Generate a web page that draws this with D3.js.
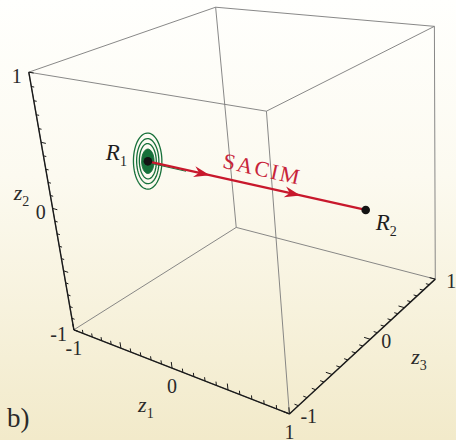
<!DOCTYPE html>
<html>
<head>
<meta charset="utf-8">
<script src="https://cdn.jsdelivr.net/npm/d3@7"></script>
<style>
  html, body { margin: 0; padding: 0; background: #fff; }
  svg { display: block; font-family: "Liberation Serif", "DejaVu Serif", serif; }
</style>
</head>
<body>
<svg id="chart" width="456" height="440"></svg>
<script>
// ---- data ----
var tickValues = d3.range(-10, 11).map(function(i) { return i / 10; });
var tickLabels = [-1, 0, 1];
var axisNames = ["1", "2", "3"];

var stateSubs = ["1", "2"];
var stateZ1 = [-1, 1];
var stateZ2 = [0, 0];
var stateZ3 = [0, 0];
var arrowAt = [-0.36, 0.47];   // z1 where the arrow heads sit

// contour rings around R1, radii along z2 and z3
var ringR2 = [0.23, 0.185, 0.145];
var ringR3 = [0.16, 0.125, 0.095];
var coreR2 = 0.1, coreR3 = 0.07;

// box corners (z1, z2, z3) and where they land in the image -> camera
var boxCorners = [[-1,-1,-1],[1,-1,-1],[1,-1,1],[-1,-1,1],[-1,1,-1],[1,1,-1],[1,1,1],[-1,1,1]];
var cornerScreen = [[74,329.5],[289.3,414],[435.5,279],[236,227.7],[28.5,72],[266.7,111.7],[434,26],[216,7.3]];

// ---- projection: fit a 3x4 perspective matrix to the corners ----
function fitProjection(src, dst) {
  var A = [], b = [];
  src.forEach(function(p, i) {
    var X = p[0], Y = p[1], Z = p[2], u = dst[i][0], v = dst[i][1];
    A.push([X, Y, Z, 1, 0, 0, 0, 0, -u * X, -u * Y, -u * Z]); b.push(u);
    A.push([0, 0, 0, 0, X, Y, Z, 1, -v * X, -v * Y, -v * Z]); b.push(v);
  });
  var n = 11, M = [];
  for (var r = 0; r < n; r++) {
    M.push(new Array(n + 1).fill(0));
    for (var k = 0; k < A.length; k++) {
      for (var c = 0; c < n; c++) M[r][c] += A[k][r] * A[k][c];
      M[r][n] += A[k][r] * b[k];
    }
  }
  for (var i = 0; i < n; i++) {
    var piv = i;
    for (var r = i + 1; r < n; r++) if (Math.abs(M[r][i]) > Math.abs(M[piv][i])) piv = r;
    var t = M[i]; M[i] = M[piv]; M[piv] = t;
    for (var r = 0; r < n; r++) {
      if (r === i) continue;
      var f = M[r][i] / M[i][i];
      for (var c = i; c <= n; c++) M[r][c] -= f * M[i][c];
    }
  }
  var q = M.map(function(row, i) { return row[n] / M[i][i]; });
  return function(z) {
    var w = q[8] * z[0] + q[9] * z[1] + q[10] * z[2] + 1;
    return [(q[0] * z[0] + q[1] * z[1] + q[2] * z[2] + q[3]) / w,
            (q[4] * z[0] + q[5] * z[1] + q[6] * z[2] + q[7]) / w];
  };
}
var proj = fitProjection(boxCorners, cornerScreen);

var svg = d3.select("#chart");
var line = d3.line();

// background
var defs = svg.append("defs");
var grad = defs.append("linearGradient").attr("id", "bg").attr("x1", 0).attr("y1", 0).attr("x2", 0).attr("y2", 1);
grad.append("stop").attr("offset", "0%").attr("stop-color", "#fffffd");
grad.append("stop").attr("offset", "40%").attr("stop-color", "#fcfaf0");
grad.append("stop").attr("offset", "100%").attr("stop-color", "#f2eaca");
svg.append("rect").attr("width", 456).attr("height", 440).attr("fill", "url(#bg)");

// box edges
var edges = [];
boxCorners.forEach(function(a, i) {
  boxCorners.forEach(function(b, j) {
    if (j <= i) return;
    var diff = Math.abs(a[0] - b[0]) + Math.abs(a[1] - b[1]) + Math.abs(a[2] - b[2]);
    if (diff === 2) edges.push([a, b]);
  });
});
svg.append("g").selectAll("path").data(edges).enter().append("path")
  .attr("d", function(d) { return line(d.map(proj)); })
  .attr("fill", "none").attr("stroke", "#7a7a7a").attr("stroke-width", 0.9);

// axes: z1 at (z2=-1,z3=-1), z2 at (z1=-1,z3=-1), z3 at (z1=1,z2=-1)
var axes = [
  { pos: function(v) { return [v, -1, -1]; }, tick: [0, 1, 0],  lab: [0, 25],  anchor: "middle", title: [-34, 44] },
  { pos: function(v) { return [-1, v, -1]; }, tick: [1, 0, 0],  lab: [-7, 11], anchor: "end",    title: [-39, -8] },
  { pos: function(v) { return [1, -1, v]; },  tick: [-1, 0, 0], lab: [11, 9],  anchor: "start",  title: [41, 25] }
];
var gAx = svg.append("g");
axes.forEach(function(ax, k) {
  gAx.append("path")
    .attr("d", line([proj(ax.pos(-1)), proj(ax.pos(1))]))
    .attr("stroke", "#1a1a1a").attr("stroke-width", 1.4).attr("fill", "none");
  gAx.selectAll(null).data(tickValues).enter().append("path")
    .attr("d", function(v) {
      var p = ax.pos(v);
      var len = (Math.abs(Math.round(v * 10)) % 5 === 0) ? 0.05 : 0.03;
      var q = [p[0] + ax.tick[0] * len, p[1] + ax.tick[1] * len, p[2] + ax.tick[2] * len];
      return line([proj(p), proj(q)]);
    })
    .attr("stroke", "#1a1a1a").attr("stroke-width", 1);
  gAx.selectAll(null).data(tickLabels).enter().append("text")
    .attr("x", function(v) { return proj(ax.pos(v))[0] + ax.lab[0]; })
    .attr("y", function(v) { return proj(ax.pos(v))[1] + ax.lab[1]; })
    .attr("text-anchor", ax.anchor)
    .attr("font-size", 20).attr("fill", "#2a2a2a")
    .text(function(v) { return v; });
  var mid = proj(ax.pos(0));
  var t = gAx.append("text")
    .attr("x", mid[0] + ax.title[0]).attr("y", mid[1] + ax.title[1])
    .attr("font-size", 22).attr("fill", "#2a2a2a");
  t.append("tspan").attr("font-style", "italic").text("z");
  t.append("tspan").attr("font-size", 14).attr("dy", 6).text(axisNames[k]);
});

// contour rings around R1 in the z2-z3 plane
var r1 = [stateZ1[0], stateZ2[0], stateZ3[0]];
function ring(a2, a3) {
  return d3.range(0, 65).map(function(i) {
    var th = i / 64 * 2 * Math.PI;
    return proj([r1[0], r1[1] + a2 * Math.sin(th), r1[2] + a3 * Math.cos(th)]);
  });
}
var gC = svg.append("g");
ringR2.forEach(function(a2, i) {
  gC.append("path").attr("d", line(ring(a2, ringR3[i])))
    .attr("fill", "none").attr("stroke", "#17703a").attr("stroke-width", 1.3);
});
gC.append("path").attr("d", line(ring(coreR2, coreR3)))
  .attr("fill", "#17703a").attr("stroke", "#17703a").attr("stroke-width", 1);

// SACIM path
var pA = proj(r1), pB = proj([stateZ1[1], stateZ2[1], stateZ3[1]]);
svg.append("path").attr("d", line([proj([-1, -0.012, 0]), proj([-0.6, -0.012, 0])]))
  .attr("stroke", "#17703a").attr("stroke-width", 1);
svg.append("path").attr("d", line([pA, pB]))
  .attr("stroke", "#c8182c").attr("stroke-width", 2.2);

var ang = Math.atan2(pB[1] - pA[1], pB[0] - pA[0]) * 180 / Math.PI;
svg.append("g").selectAll("path").data(arrowAt).enter().append("path")
  .attr("transform", function(v) {
    var p = proj([v, 0, 0]);
    return "translate(" + p[0] + "," + p[1] + ") rotate(" + ang + ")";
  })
  .attr("d", "M0,0 L-16,-5.5 L-11,0 L-16,5.5 Z")
  .attr("fill", "#c8182c");

var lp = proj([0.1, 0, 0]);
svg.append("text")
  .attr("transform", "translate(" + lp[0] + "," + lp[1] + ") rotate(" + ang + ")")
  .attr("y", -10).attr("text-anchor", "middle")
  .attr("font-size", 22).attr("letter-spacing", 2).attr("fill", "#c8243a")
  .text("SACIM");

// states
var states = stateSubs.map(function(s, i) { return { sub: s, p: proj([stateZ1[i], stateZ2[i], stateZ3[i]]) }; });
svg.append("g").selectAll("circle").data(states).enter().append("circle")
  .attr("cx", function(d) { return d.p[0]; }).attr("cy", function(d) { return d.p[1]; })
  .attr("r", 4.3).attr("fill", "#141414");
var labOff = [[-21, -1, "end"], [10, 20, "start"]];
states.forEach(function(d, i) {
  var t = svg.append("text")
    .attr("x", d.p[0] + labOff[i][0]).attr("y", d.p[1] + labOff[i][1])
    .attr("text-anchor", labOff[i][2]).attr("font-size", 23).attr("fill", "#1e1e1e");
  t.append("tspan").attr("font-style", "italic").text("R");
  t.append("tspan").attr("font-size", 14).attr("dy", 6).text(d.sub);
});

// panel tag
svg.append("text").attr("x", 7).attr("y", 427).attr("font-size", 27).attr("fill", "#2a2a2a").text("b)");
</script>
</body>
</html>
